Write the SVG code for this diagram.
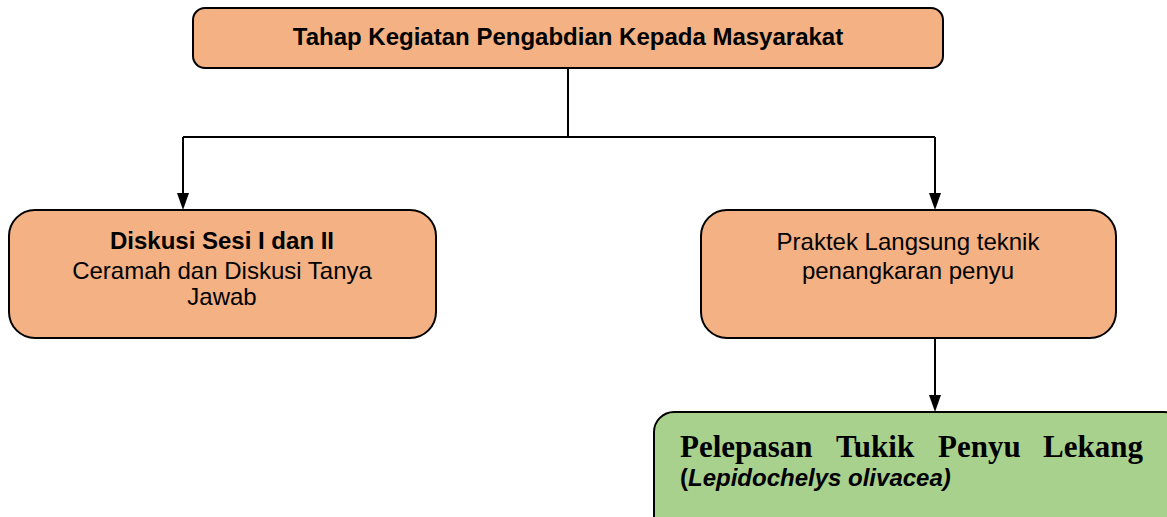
<svg xmlns="http://www.w3.org/2000/svg" width="1167" height="517" viewBox="0 0 1167 517">
<style>
.box{stroke:#000;stroke-width:2}
.or{fill:#F4B183}
.gr{fill:#A9D18E}
.t{font-family:"Liberation Sans",Arial,sans-serif;fill:#000;text-anchor:middle;font-size:24px}
.b{font-weight:bold}
.con{stroke:#000;stroke-width:2;fill:none}
.ah{fill:#000}
</style>
<rect width="1167" height="517" fill="#fff"/>
<g id="connectors">
<path class="con" d="M568,68 V137"/>
<path class="con" d="M183,137 H935"/>
<path class="con" d="M183,137 V195"/>
<path class="ah" d="M177,193 L189,193 L183,210 Z"/>
<path class="con" d="M935,137 V195"/>
<path class="ah" d="M929,193 L941,193 L935,210 Z"/>
<path class="con" d="M935,338 V397"/>
<path class="ah" d="M929,395 L941,395 L935,412 Z"/>
</g>
<g id="top">
<rect class="box or" x="193" y="8" width="750" height="60" rx="12"/>
<text class="t b" x="568" y="45">Tahap Kegiatan Pengabdian Kepada Masyarakat</text>
</g>
<g id="left">
<rect class="box or" x="9" y="210" width="427" height="128" rx="26"/>
<text class="t b" x="222" y="249">Diskusi Sesi I dan II</text>
<text class="t" x="222" y="279">Ceramah dan Diskusi Tanya</text>
<text class="t" x="222" y="305">Jawab</text>
</g>
<g id="right">
<rect class="box or" x="701" y="210" width="415" height="128" rx="26"/>
<text class="t" x="908" y="250">Praktek Langsung teknik</text>
<text class="t" x="908" y="279">penangkaran penyu</text>
</g>
<g id="release">
<rect class="box gr" x="654" y="412" width="530" height="130" rx="20"/>
<text font-family="'Liberation Serif','Times New Roman',serif" font-weight="bold" font-size="31" fill="#000" y="457"><tspan x="680">Pelepasan</tspan><tspan x="836">Tukik</tspan><tspan x="938">Penyu</tspan><tspan x="1043">Lekang</tspan></text>
<text font-family="'Liberation Sans',Arial,sans-serif" font-weight="bold" font-size="24" fill="#000" x="680" y="486">(<tspan font-style="italic">Lepidochelys olivacea)</tspan></text>
</g>
</svg>
